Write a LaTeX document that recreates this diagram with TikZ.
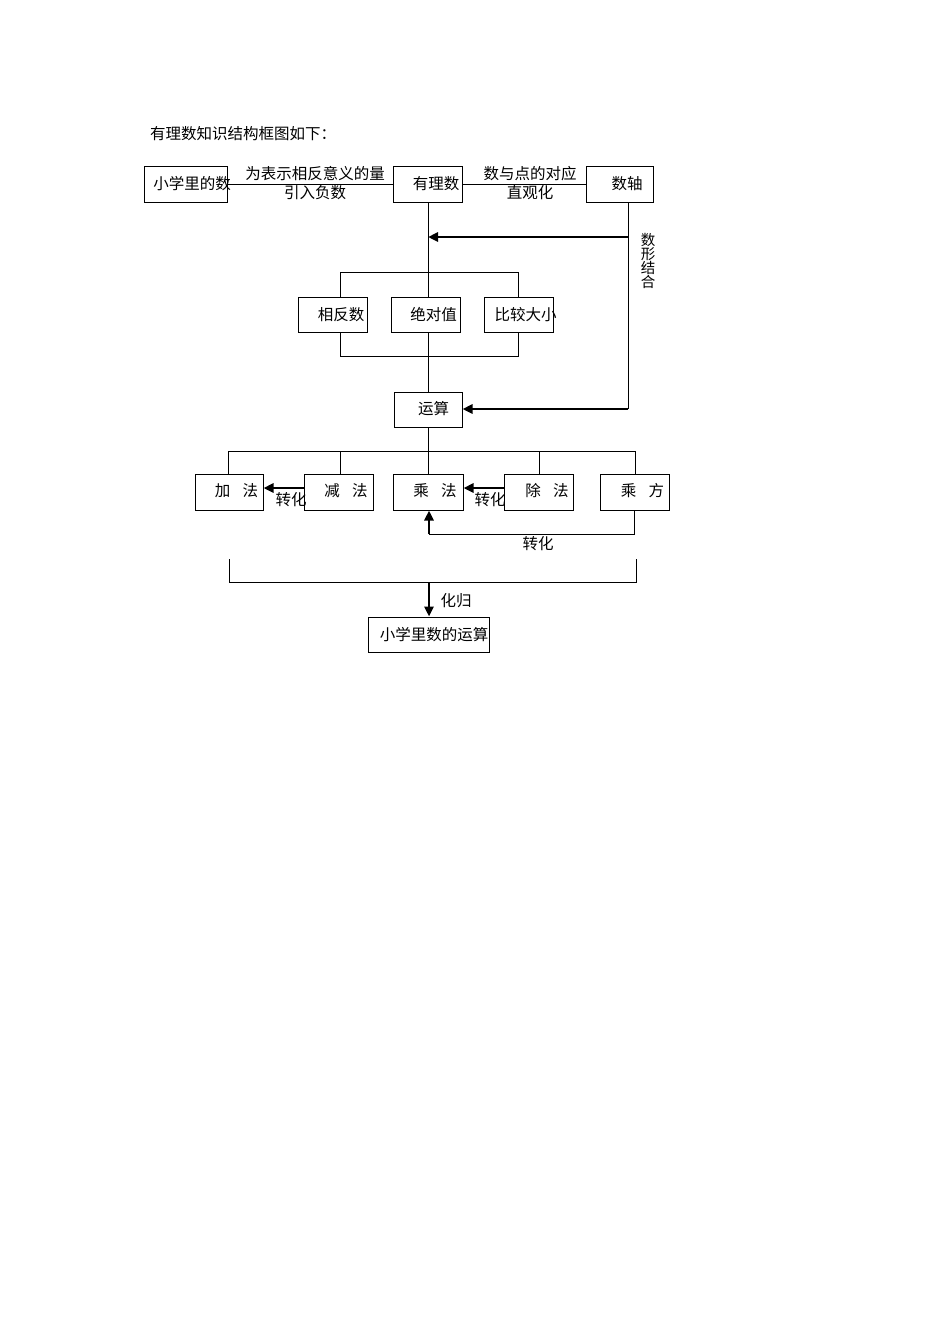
\documentclass[tikz,border=0pt]{standalone}
\usepackage{fontspec}
\setmainfont{Noto Sans CJK SC}
\usetikzlibrary{arrows.meta,calc}
\begin{document}
\begin{tikzpicture}[x=1pt,y=-1pt,
  box/.style={draw,line width=1pt,inner sep=0pt,minimum height=36pt},
  txt/.style={inner sep=0pt,font=\fontsize{15.5}{16}\selectfont},
  ln/.style={line width=1pt},
  arr/.style={line width=2.6pt,-{Triangle[length=10pt,width=9pt]}}
]
\useasboundingbox[fill=white] (0,0) rectangle (950,1344);

% title
\node[txt,anchor=west] (title) at (150,134) {有理数知识结构框图如下：};

% top row
\node[box,minimum width=83pt] (xx) at (185.5,184) {};
\node[txt] (xxt) at (192,184) {小学里的数};
\node[box,minimum width=69pt] (yls) at (428,184) {};
\node[txt] (ylst) at (436,184) {有理数};
\node[box,minimum width=67pt] (sz) at (619.5,184) {};
\node[txt] (szt) at (627,184) {数轴};

\draw[ln] (xx.east) -- (yls.west);
\draw[ln] (yls.east) -- (sz.west);
\node[txt] (l1) at (315,174) {为表示相反意义的量};
\node[txt] (l2) at (315,193) {引入负数};
\node[txt] (l3) at (530,174) {数与点的对应};
\node[txt] (l4) at (530,193) {直观化};

% middle boxes
\node[box,minimum width=69pt,minimum height=35pt] (xfs) at (332.5,314.5) {};
\node[txt] (xfst) at (341,315) {相反数};
\node[box,minimum width=69pt,minimum height=35pt] (jdz) at (425.5,314.5) {};
\node[txt] (jdzt) at (433.5,315) {绝对值};
\node[box,minimum width=69pt,minimum height=35pt] (bj) at (518.5,314.5) {};
\node[txt] (bjt) at (525.5,315) {比较大小};

\node[box,minimum width=68pt,minimum height=35pt] (ys) at (428,409.5) {};
\node[txt] (yst) at (433.5,409) {运算};

% main vertical
\draw[ln] (yls.south) -- (yls.south |- jdz.north);
\draw[ln] (yls.south |- jdz.south) -- (ys.north);

% brackets around middle boxes
\coordinate (bt1) at (340,272);
\coordinate (bt2) at (518,272);
\draw[ln] (bt1 |- xfs.north) -- (bt1) -- (bt2) -- (bt2 |- bj.north);
\coordinate (bb1) at (340,356);
\coordinate (bb2) at (518,356);
\draw[ln] (bb1 |- xfs.south) -- (bb1) -- (bb2) -- (bb2 |- bj.south);

% right side line and arrows
\coordinate (szb) at (628,202);
\coordinate (r1) at (628,237);
\coordinate (r2) at (628,409);
\coordinate (m1) at (428,237);
\draw[ln] (szb) -- (r2);
\draw[arr] (r1) -- (m1);
\draw[arr] (r2) -- (ys.east |- r2);
\node[txt,align=center,font=\fontsize{14.5}{14}\selectfont] (sxjh) at (648,261) {数\\形\\结\\合};

% bottom row boxes
\node[box,minimum width=68pt] (jia) at (229,492) {};
\node[txt] (jiat) at (236.5,491) {加\hspace{0.8em}法};
\node[box,minimum width=69pt] (jian) at (338.5,492) {};
\node[txt] (jiant) at (346,491) {减\hspace{0.8em}法};
\node[box,minimum width=70pt] (cheng) at (428,492) {};
\node[txt] (chengt) at (435,491) {乘\hspace{0.8em}法};
\node[box,minimum width=69pt] (chu) at (538.5,492) {};
\node[txt] (chut) at (547,491) {除\hspace{0.8em}法};
\node[box,minimum width=69pt] (cf) at (634.5,492) {};
\node[txt] (cft) at (642.5,491) {乘\hspace{0.8em}方};

% tree from 运算
\coordinate (h0) at (428,451);
\coordinate (h1) at (228,451);
\coordinate (h2) at (635,451);
\draw[ln] (ys.south) -- (h0);
\draw[ln] (h1) -- (h2);
\draw[ln] (h1) -- (h1 |- jia.north);
\draw[ln] (340,451) -- (340,474);
\draw[ln] (h0) -- (cheng.north);
\draw[ln] (539,451) -- (539,474);
\draw[ln] (h2) -- (h2 |- cf.north);

% conversions
\draw[arr] ($(jian.west)+(0,-4)$) -- ($(jia.east)+(0,-4)$);
\node[txt] (zh1) at (291,500) {转化};
\draw[arr] ($(chu.west)+(0,-4)$) -- ($(cheng.east)+(0,-4)$);
\node[txt] (zh2) at (490,500) {转化};
\coordinate (c1) at (634.5,534);
\coordinate (c2) at (429,534);
\draw[ln] (cf.south) -- (c1) -- (c2);
\draw[arr] (c2) -- (c2 |- cheng.south);
\node[txt] (zh3) at (538,544) {转化};

% big bracket and reduction
\node[box,minimum width=121pt,minimum height=35pt] (xxys) at (428.5,634.5) {};
\node[txt] (xxyst) at (434,635) {小学里数的运算};
\coordinate (k1) at (229,559);
\coordinate (k2) at (229,582);
\coordinate (k3) at (636,582);
\coordinate (k4) at (636,559);
\coordinate (k0) at (429,582);
\draw[ln] (k1) -- (k2) -- (k3) -- (k4);
\draw[arr] (k0) -- (k0 |- xxys.north);
\node[txt] (hg) at (456,601) {化归};
\end{tikzpicture}
\end{document}
